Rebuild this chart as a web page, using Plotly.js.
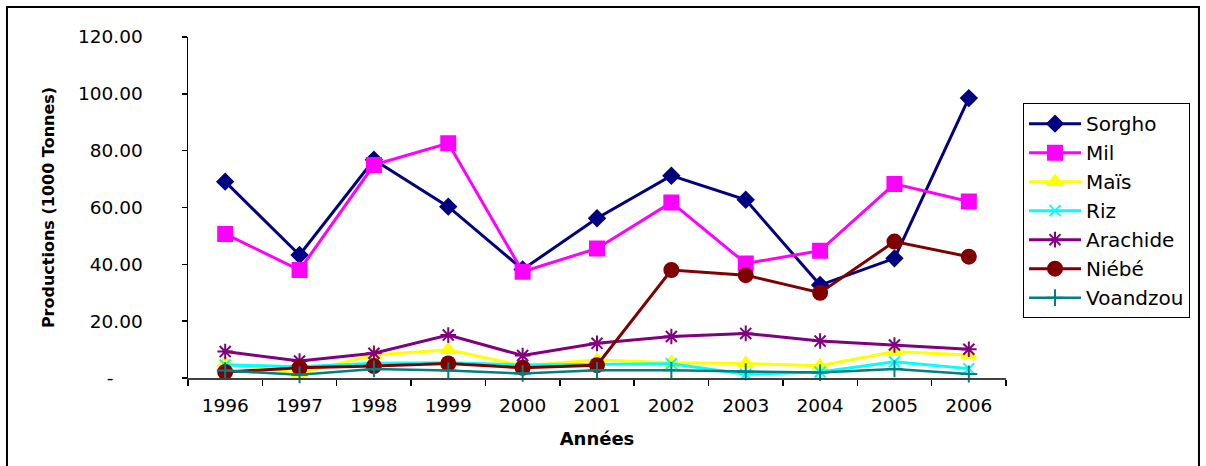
<!DOCTYPE html>
<html>
<head>
<meta charset="utf-8">
<script src="https://cdn.plot.ly/plotly-3.0.1.min.js"></script>
<style>
  html, body { margin: 0; padding: 0; background: #fff; }
  #chart { width: 1206px; height: 466px; }
</style>
</head>
<body>
<div id="chart"></div>
<script>
// Production annuelle par culture (milliers de tonnes)
const annees = ['1996', '1997', '1998', '1999', '2000', '2001', '2002', '2003', '2004', '2005', '2006'];

const sorgho   = [69.1, 43.3, 76.8, 60.3, 38.2, 56.2, 71.2, 62.7, 32.7, 42.1, 98.5];
const mil      = [50.7, 38.0, 75.0, 82.6, 37.4, 45.6, 61.8, 40.3, 44.8, 68.3, 62.1];
const mais     = [5.2, 1.6, 8.1, 9.9, 4.3, 6.3, 5.4, 5.1, 4.3, 9.3, 8.1];
const riz      = [4.6, 4.0, 5.2, 5.4, 4.6, 4.7, 5.0, 1.3, 2.1, 5.7, 3.3];
const arachide = [9.3, 6.0, 8.7, 15.1, 7.9, 12.2, 14.6, 15.7, 13.0, 11.6, 10.1];
const niebe    = [2.1, 3.6, 4.2, 5.1, 3.6, 4.5, 38.0, 36.2, 30.0, 48.0, 42.7];
const voandzou = [2.6, 1.1, 3.2, 2.6, 1.6, 2.7, 2.7, 2.2, 1.9, 3.2, 1.4];

const yTickVals = [0, 20, 40, 60, 80, 100, 120];
const yTickText = ['-\u00a0\u00a0\u00a0\u00a0\u00a0', '20.00', '40.00', '60.00', '80.00', '100.00', '120.00'];

const FONT = 'DejaVu Sans, Arial, sans-serif';

function serie(name, values, color, symbol, size, lineWidth) {
  return {
    type: 'scatter',
    mode: 'lines+markers',
    name: name,
    legendgroup: name,
    x: annees,
    y: values,
    cliponaxis: false,
    line: { color: color, width: lineWidth || 3 },
    marker: { color: color, symbol: symbol, size: size, line: { color: color, width: 2 } }
  };
}

const traces = [
  serie('Sorgho', sorgho, '#000080', 'diamond', 12),
  serie('Mil', mil, '#FF00FF', 'square', 14),
  serie('Maïs', mais, '#FFFF00', 'triangle-up', 13),
  serie('Riz', riz, '#00FFFF', 'x-thin-open', 11),
  serie('Arachide', arachide, '#800080', 'asterisk-open', 13),
  serie('Niébé', niebe, '#800000', 'circle', 14),
  serie('Voandzou', voandzou, '#008080', 'cross-thin-open', 12, 2.5)
];

const layout = {
  width: 1206,
  height: 466,
  margin: { l: 188, r: 200, t: 37, b: 88 },
  paper_bgcolor: '#ffffff',
  plot_bgcolor: '#ffffff',
  font: { family: FONT, color: '#000000', size: 18 },
  showlegend: true,
  legend: {
    x: 1.0208, xanchor: 'left',
    y: 0.806, yanchor: 'top',
    bordercolor: '#000000', borderwidth: 1,
    bgcolor: '#ffffff',
    font: { family: FONT, size: 20, color: '#000000' },
    traceorder: 'grouped',
    tracegroupgap: 0,
    itemwidth: 52
  },
  xaxis: {
    type: 'category',
    range: [-0.5, 10.5],
    showgrid: false,
    zeroline: false,
    showline: true,
    linecolor: '#404040',
    linewidth: 2,
    ticks: 'outside',
    tickson: 'boundaries',
    ticklen: 6,
    tickwidth: 1.5,
    tickcolor: '#000000',
    ticklabelstandoff: 10,
    tickfont: { family: FONT, size: 18.5, color: '#000000' },
    title: {
      text: 'Années',
      font: { family: FONT, size: 18, color: '#000000', weight: 'bold' },
      standoff: 17
    },
    automargin: false,
    fixedrange: true
  },
  yaxis: {
    range: [0, 120],
    tickvals: yTickVals,
    ticktext: yTickText,
    showgrid: false,
    zeroline: false,
    showline: true,
    linecolor: '#000000',
    linewidth: 1.5,
    ticks: 'outside',
    ticklen: 5,
    tickwidth: 1.5,
    tickcolor: '#000000',
    ticklabelstandoff: 35,
    tickfont: { family: FONT, size: 18.5, color: '#000000' },
    title: {
      text: 'Productions (1000 Tonnes)',
      font: { family: FONT, size: 16, color: '#000000', weight: 'bold' },
      standoff: 19
    },
    automargin: false,
    fixedrange: true
  },
  shapes: [
    {
      type: 'rect', xref: 'paper', yref: 'paper',
      x0: -0.2213, x1: 1.2359, y0: -0.30, y1: 1.088,
      line: { color: '#000000', width: 2 },
      fillcolor: 'rgba(0,0,0,0)',
      layer: 'below'
    }
  ]
};

Plotly.newPlot('chart', traces, layout, { displayModeBar: false, staticPlot: true });
</script>
</body>
</html>
